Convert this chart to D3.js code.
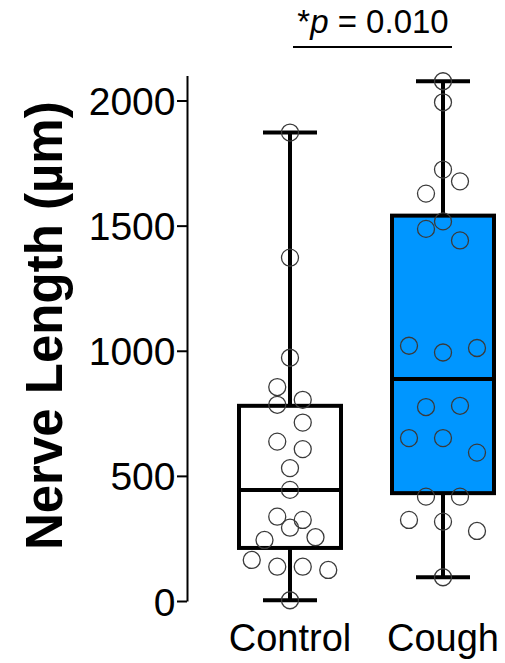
<!DOCTYPE html>
<html>
<head>
<meta charset="utf-8">
<script src="https://cdn.jsdelivr.net/npm/d3@7"></script>
<style>
  body { margin: 0; background: #fff; }
  text { font-family: "Liberation Sans", Arial, sans-serif; fill: #000; }
</style>
</head>
<body>
<svg width="505" height="663"></svg>
<script>
const groups = ["Control", "Cough"];
const controlValues = [1872, 1372, 972, 855, 804, 784, 713, 637, 607, 531, 444, 337, 324, 293, 255, 244, 164, 137, 137, 124, 3];
const controlLanes = [0, 0, 0, -1, 1, -1, 1, -1, 1, 0, 0, -1, 1, 0, 2, -2, -3, -1, 1, 3, 0];
const coughValues = [2077, 1993, 1724, 1677, 1628, 1517, 1487, 1441, 1020, 1011, 993, 780, 775, 651, 651, 593, 417, 417, 324, 317, 280, 95];
const coughLanes = [0, 0, 0, 1, -1, 0, -1, 1, -2, 2, 0, 1, -1, -2, 0, 2, -1, 1, -2, 0, 2, 0];
// min, q1, median, q3, max
const controlBox = [3, 212, 444, 780, 1872];
const coughBox = [95, 431, 887, 1540, 2077];
const yTicks = [0, 500, 1000, 1500, 2000];
const pLabel = "0.010";

const fills = ["#ffffff", "#0096ff"];
const series = [
  { name: groups[0], values: controlValues, lanes: controlLanes, box: controlBox, fill: fills[0] },
  { name: groups[1], values: coughValues, lanes: coughLanes, box: coughBox, fill: fills[1] }
];

const svg = d3.select("svg");
const x = d3.scalePoint().domain(groups).range([290, 443]);
const y = d3.scaleLinear().domain([0, 2100]).range([601, 75.5]);
const boxW = 102;
const capW = 54;

// y axis
const yAxis = d3.axisLeft(y).tickValues(yTicks).tickFormat(d3.format("d"))
  .tickSize(10).tickPadding(1.5).tickSizeOuter(0);
const yAxisG = svg.append("g").attr("transform", "translate(187,0)").call(yAxis);
yAxisG.select(".domain").attr("stroke-width", 2);
yAxisG.selectAll(".tick line").attr("stroke-width", 2);
yAxisG.selectAll(".tick text")
  .style("font-family", '"Liberation Sans", Arial, sans-serif')
  .style("font-size", "39px")
  .attr("dy", "0.36em");

svg.append("text")
  .attr("transform", `translate(62,${y(1100)}) rotate(-90)`)
  .attr("text-anchor", "middle")
  .style("font-size", "51px")
  .style("font-weight", "bold")
  .text("Nerve Length (µm)");

// boxes
const g = svg.selectAll("g.grp").data(series).enter().append("g").attr("class", "grp");

g.append("line")
  .attr("x1", d => x(d.name)).attr("x2", d => x(d.name))
  .attr("y1", d => y(d.box[4])).attr("y2", d => y(d.box[0]))
  .attr("stroke", "#000").attr("stroke-width", 4);

g.selectAll("line.cap").data(d => [d.box[0], d.box[4]].map(v => ({ name: d.name, v })))
  .enter().append("line").attr("class", "cap")
  .attr("x1", d => x(d.name) - capW / 2).attr("x2", d => x(d.name) + capW / 2)
  .attr("y1", d => y(d.v)).attr("y2", d => y(d.v))
  .attr("stroke", "#000").attr("stroke-width", 4);

g.append("rect")
  .attr("x", d => x(d.name) - boxW / 2)
  .attr("width", boxW)
  .attr("y", d => y(d.box[3]))
  .attr("height", d => y(d.box[1]) - y(d.box[3]))
  .attr("fill", d => d.fill)
  .attr("stroke", "#000").attr("stroke-width", 4);

g.append("line")
  .attr("x1", d => x(d.name) - boxW / 2).attr("x2", d => x(d.name) + boxW / 2)
  .attr("y1", d => y(d.box[2])).attr("y2", d => y(d.box[2]))
  .attr("stroke", "#000").attr("stroke-width", 4);

// points
g.each(function(d) {
  const maxLane = d3.max(d.lanes, Math.abs);
  const lane = d3.scaleLinear().domain([-(maxLane + 1), maxLane + 1]).range([-boxW / 2, boxW / 2]);
  d3.select(this).selectAll("circle").data(d.values.map((v, i) => ({ v, l: d.lanes[i] })))
    .enter().append("circle")
    .attr("cx", p => x(d.name) + lane(p.l))
    .attr("cy", p => y(p.v))
    .attr("r", 8.5)
    .attr("fill", "none")
    .attr("stroke", "#3a3a3a")
    .attr("stroke-width", 1.3);
});

// group labels
svg.selectAll("text.xlab").data(groups).enter().append("text")
  .attr("class", "xlab")
  .attr("x", d => x(d))
  .attr("y", 651)
  .attr("text-anchor", "middle")
  .style("font-size", "38px")
  .text(d => d);

// significance
const pText = svg.append("text")
  .attr("x", 373)
  .attr("y", 33)
  .attr("text-anchor", "middle")
  .style("font-size", "33px");
pText.append("tspan").text("*");
pText.append("tspan").style("font-style", "italic").text("p");
pText.append("tspan").text(" = " + pLabel);

svg.append("line")
  .attr("x1", x(groups[0]) + 3).attr("x2", x(groups[1]) + 9)
  .attr("y1", 47).attr("y2", 47)
  .attr("stroke", "#000").attr("stroke-width", 2);
</script>
</body>
</html>
